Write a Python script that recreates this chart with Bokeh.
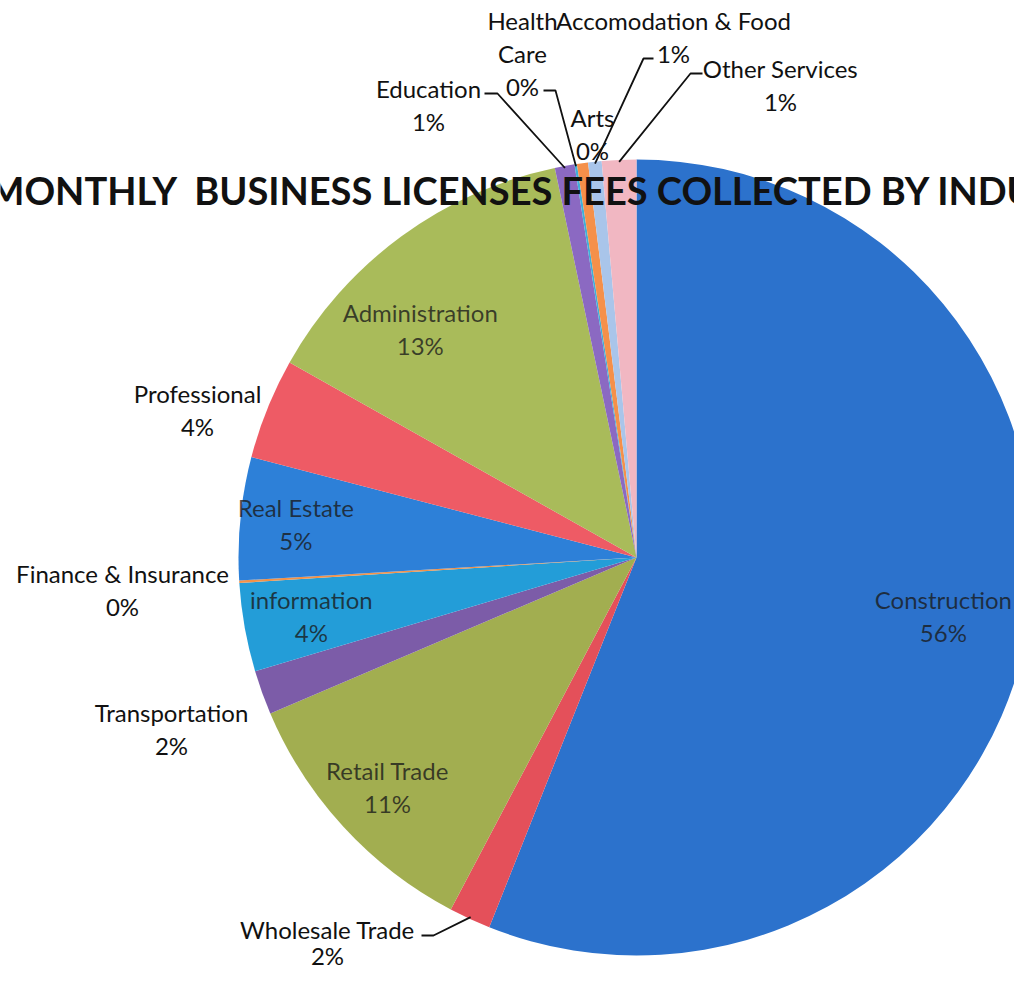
import math
from bokeh.plotting import figure
from bokeh.models import ColumnDataSource, Range1d
from bokeh.core.properties import value
from bokeh.embed import file_html
from bokeh.resources import INLINE

# ---------------- data ----------------
categories = ["Construction", "Wholesale Trade", "Retail Trade", "Transportation",
              "information", "Finance & Insurance", "Real Estate", "Professional",
              "Administration", "Education", "Health Care", "Arts",
              "Accomodation & Food", "Other Services"]
shares = [56.2, 1.7, 10.9, 1.8, 3.6, 0.1, 5.0, 4.1, 13.6, 0.8, 0.1, 0.45, 0.55, 1.4]
pct_labels = ["56%", "2%", "11%", "2%", "4%", "0%", "5%", "4%", "13%", "1%", "0%", "0%", "1%", "1%"]
colors = ["#2C72CC", "#E4505A", "#A2AE50", "#7C5CA8", "#239DD8", "#F39248", "#2D80D8",
          "#EE5B65", "#A9BB5A", "#8B69C2", "#3FB0D8", "#F5904A", "#A9C5EA", "#F1B7C2"]
title_text = "MONTHLY \u00a0BUSINESS LICENSES FEES COLLECTED BY INDUSTRY"

# ---------------- layout (pixel geometry of the page) ----------------
W, H = 1014, 971
def Y(img_y):
    return H - img_y

CX, CY, R = 636, Y(557), 398
FONT = "Lato"
FS = "24px"
LINE = 33

# inside labels: radial fraction (and small angular nudge in turns)
inside = {"Construction": (0.785, 0.0), "Retail Trade": (0.85, 0.0),
          "information": (0.83, 0.0), "Real Estate": (0.86, 0.0),
          "Administration": (0.79, -0.02)}
# outside labels: centre of first text line (image coords), line spacing
outside = {"Wholesale Trade": (327, 929, 26), "Transportation": (171, 712, LINE),
           "Finance & Insurance": (122, 573, LINE), "Professional": (197, 393, LINE),
           "Education": (428, 88, LINE), "Health Care": (522, 20, LINE),
           "Arts": (592, 117, LINE), "Accomodation & Food": (673, 20, LINE),
           "Other Services": (780, 68, LINE)}
wrap = {"Health Care": ["Health", "Care"]}
# leader elbows (image coords), the line then runs to the slice edge
leaders = {"Wholesale Trade": [(421, 935), (433, 935)],
           "Education": [(484, 93), (497, 93)],
           "Health Care": [(543, 90), (555, 90)],
           "Accomodation & Food": [(653, 58), (643, 58)],
           "Other Services": [(702, 73), (690, 73)]}

# ---------------- geometry from data ----------------
total = float(sum(shares))
cum = 0.0
starts, ends, mids = [], [], []
for s in shares:
    a0 = cum / total
    cum += s
    a1 = cum / total
    starts.append(math.pi / 2 - 2 * math.pi * a0)
    ends.append(math.pi / 2 - 2 * math.pi * a1)
    mids.append((a0 + a1) / 2)  # turns clockwise from 12 o'clock

p = figure(width=W, height=H, x_range=Range1d(0, W), y_range=Range1d(0, H),
           output_backend="svg", toolbar_location=None, min_border=0,
           x_axis_type=None, y_axis_type=None)
p.grid.visible = False
p.outline_line_color = None
p.background_fill_color = "white"
p.border_fill_color = "white"

src = ColumnDataSource(dict(start=starts, end=ends, color=colors, cat=categories))
p.wedge(x=CX, y=CY, radius=R, start_angle="start", end_angle="end", direction="clock",
        fill_color="color", line_color=None, source=src)

# inside labels
ix, iy, it = [], [], []
for i, c in enumerate(categories):
    if c in inside:
        fr, nudge = inside[c]
        t = 2 * math.pi * (mids[i] + nudge)
        x = CX + fr * R * math.sin(t)
        y = CY + fr * R * math.cos(t)
        ix += [x, x]
        iy += [y + LINE / 2, y - LINE / 2]
        it += [c, pct_labels[i]]
p.text(x=ix, y=iy, text=it, text_font=value(FONT), text_font_size=FS,
       text_color="#1a1a1a", text_alpha=0.78, text_align="center", text_baseline="middle")

# leader lines
for c, pts in leaders.items():
    i = categories.index(c)
    t = 2 * math.pi * mids[i]
    ex = CX + (R - 2) * math.sin(t)
    ey = CY + (R - 2) * math.cos(t)
    xs = [q[0] for q in pts] + [ex]
    ys = [Y(q[1]) for q in pts] + [ey]
    p.line(xs, ys, line_color="#111111", line_width=1.8)

# outside labels
ox, oy, ot = [], [], []
for c, (x0, y0, sp) in outside.items():
    i = categories.index(c)
    lines = wrap.get(c, [c]) + [pct_labels[i]]
    for k, ln in enumerate(lines):
        ox.append(x0)
        oy.append(Y(y0 + k * sp))
        ot.append(ln)
p.text(x=ox, y=oy, text=ot, text_font=value(FONT), text_font_size=FS,
       text_color="#111111", text_align="center", text_baseline="middle")

# title (overlapping the pie, cut by the frame as in the source)
p.text(x=[-12], y=[Y(189)], text=[title_text], text_font=value(FONT), text_font_size="38px",
       text_font_style="bold", text_color="#111111", text_align="left", text_baseline="middle")

open("out.html", "w").write(file_html(p, INLINE))
